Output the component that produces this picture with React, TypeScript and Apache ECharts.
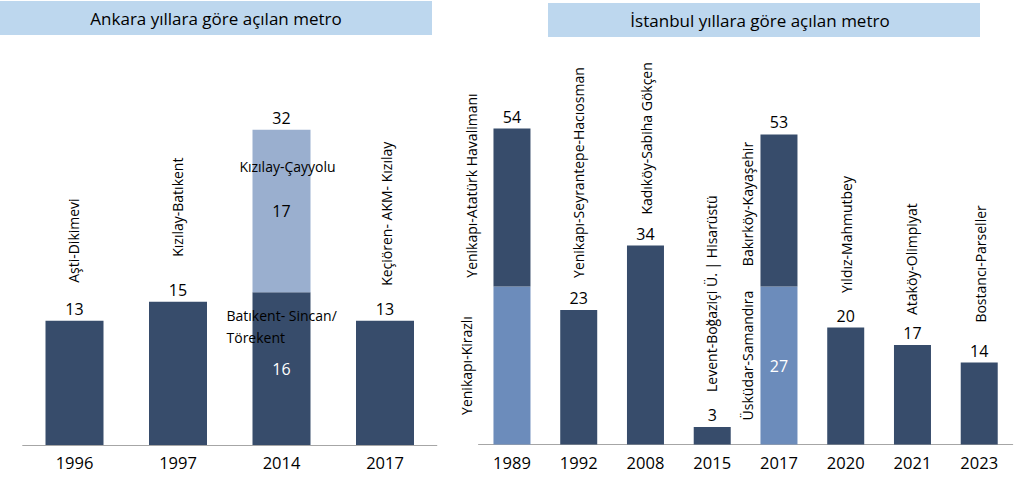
import React, { useEffect, useRef } from 'react';
import * as echarts from 'echarts';

// ---------- data ----------
const ankaraTitle = 'Ankara yıllara göre açılan metro';
const ankaraYears = ['1996', '1997', '2014', '2017'];
const ankaraFirst = [13, 15, 16, 13];
const ankaraSecond: (number | null)[] = [null, null, 17, null];
const ankaraTotals = [13, 15, 32, 13];
const ankaraLines = ['Aşti-Dikimevi', 'Kızılay-Batıkent', 'Kızılay-Çayyolu', 'Batıkent- Sincan/\nTörekent', 'Keçiören- AKM- Kızılay'];

const istanbulTitle = 'İstanbul yıllara göre açılan metro';
const istanbulYears = ['1989', '1992', '2008', '2015', '2017', '2020', '2021', '2023'];
const istanbulFirst = [27, 23, 34, 3, 27, 20, 17, 14];
const istanbulSecond: (number | null)[] = [27, null, null, null, 26, null, null, null];
const istanbulTotals = [54, 23, 34, 3, 53, 20, 17, 14];
const istanbulLines = [
  'Yenikapı-Kirazlı',
  'Yenikapı-Atatürk Havalimanı',
  'Yenikapı-Seyrantepe-Hacıosman',
  'Kadıköy-Sabiha Gökçen',
  'Levent-Boğaziçi Ü. | Hisarüstü',
  'Üsküdar-Samandıra',
  'Bakırköy-Kayaşehir',
  'Yıldız-Mahmutbey',
  'Ataköy-Olimpiyat',
  'Bostancı-Parseller',
];

// ---------- styles / layout ----------
const DARK = '#374c6b';
const ANK_LIGHT = '#9aafcf';
const IST_LIGHT = '#6c8cbb';
const TITLE_BG = '#bdd7ee';
const TEXT = '#000000';
const FONT = '"Open Sans", "Noto Sans", sans-serif';

type Anchor = 'total' | 'firstTop' | 'firstMid' | 'secondMid';
interface NameLayout { cat: number; anchor: Anchor; dx: number; dy: number; vertical: boolean; align: 'left' | 'center'; vAlign?: 'middle' | 'top' }

const ankaraLayout: NameLayout[] = [
  { cat: 0, anchor: 'total', dx: -1.5, dy: -38, vertical: true, align: 'left' },
  { cat: 1, anchor: 'total', dx: -1, dy: -45, vertical: true, align: 'left' },
  { cat: 2, anchor: 'total', dx: 6, dy: 37, vertical: false, align: 'center' },
  { cat: 2, anchor: 'firstTop', dx: -55, dy: 12, vertical: false, align: 'left', vAlign: 'top' },
  { cat: 3, anchor: 'total', dx: 1, dy: -35, vertical: true, align: 'left' },
];

const istanbulLayout: NameLayout[] = [
  { cat: 0, anchor: 'firstMid', dx: -45, dy: 0, vertical: true, align: 'center' },
  { cat: 0, anchor: 'secondMid', dx: -40, dy: -22, vertical: true, align: 'center' },
  { cat: 1, anchor: 'total', dx: 0, dy: -32, vertical: true, align: 'left' },
  { cat: 2, anchor: 'total', dx: 1, dy: -31, vertical: true, align: 'left' },
  { cat: 3, anchor: 'total', dx: -1, dy: -35, vertical: true, align: 'left' },
  { cat: 4, anchor: 'firstMid', dx: -31, dy: -10, vertical: true, align: 'center' },
  { cat: 4, anchor: 'secondMid', dx: -31, dy: -6.5, vertical: true, align: 'center' },
  { cat: 5, anchor: 'total', dx: 1, dy: -34.5, vertical: true, align: 'left' },
  { cat: 6, anchor: 'total', dx: -1, dy: -30, vertical: true, align: 'left' },
  { cat: 7, anchor: 'total', dx: 1, dy: -40, vertical: true, align: 'left' },
];

function anchorValue(a: Anchor, i: number, first: number[], second: (number | null)[]) {
  const s = second[i] || 0;
  if (a === 'total') return first[i] + s;
  if (a === 'firstTop') return first[i];
  if (a === 'firstMid') return first[i] / 2;
  return first[i] + s / 2;
}

function xAxis(gridIndex: number, data: string[]) {
  return {
    type: 'category',
    gridIndex,
    data,
    axisTick: { show: false },
    axisLine: { lineStyle: { color: '#a6a6a6', width: 1.2 } },
    axisLabel: { fontSize: 16.5, color: TEXT, margin: 9, fontFamily: FONT },
    splitLine: { show: false },
  };
}

function buildOption() {
  const ankaraFirstData = ankaraFirst.map((v, i) =>
    ankaraSecond[i] != null
      ? { value: v, label: { show: true, position: 'inside', color: '#ffffff', fontSize: 16, fontFamily: FONT } }
      : { value: v }
  );
  const ankaraSecondData = ankaraSecond.map((v) =>
    v == null ? null : { value: v, label: { show: true, position: 'inside', color: TEXT, fontSize: 16, fontFamily: FONT } }
  );
  const istanbulFirstData = istanbulFirst.map((v, i) => {
    if (i === 4) {
      return { value: v, itemStyle: { color: IST_LIGHT }, label: { show: true, position: 'inside', color: '#ffffff', fontSize: 16, fontFamily: FONT } };
    }
    if (i === 0) return { value: v, itemStyle: { color: IST_LIGHT } };
    return { value: v };
  });

  return {
    animation: false,
    backgroundColor: '#ffffff',
    textStyle: { fontFamily: FONT },
    grid: [
      { left: 22.75, width: 414, top: 63, bottom: 40 },
      { left: 478.6, width: 534, top: 93.5, bottom: 40.5 },
    ],
    xAxis: [xAxis(0, ankaraYears), xAxis(1, istanbulYears)],
    yAxis: [
      { type: 'value', gridIndex: 0, min: 0, max: 40, show: false, splitLine: { show: false } },
      { type: 'value', gridIndex: 1, min: 0, max: 60, show: false, splitLine: { show: false } },
    ],
    series: [
      { type: 'bar', xAxisIndex: 0, yAxisIndex: 0, stack: 'a', barWidth: 58, itemStyle: { color: DARK }, data: ankaraFirstData },
      { type: 'bar', xAxisIndex: 0, yAxisIndex: 0, stack: 'a', barWidth: 58, itemStyle: { color: ANK_LIGHT }, data: ankaraSecondData },
      { type: 'bar', xAxisIndex: 1, yAxisIndex: 1, stack: 'i', barWidth: 37, itemStyle: { color: DARK }, data: istanbulFirstData },
      { type: 'bar', xAxisIndex: 1, yAxisIndex: 1, stack: 'i', barWidth: 37, itemStyle: { color: DARK }, data: istanbulSecond },
    ],
  };
}

function totalGraphics(chart: any, gridIndex: number, first: number[], second: (number | null)[], labels: number[]) {
  return labels.map((t, i) => {
    const pt = chart.convertToPixel({ gridIndex }, [i, first[i] + (second[i] || 0)]) as number[];
    return {
      type: 'text',
      x: pt[0],
      y: pt[1] - 4,
      silent: true,
      z: 20,
      style: { text: String(t), fill: TEXT, fontSize: 16, fontFamily: FONT, align: 'center', verticalAlign: 'bottom' },
    };
  });
}

function nameGraphics(chart: any, gridIndex: number, names: string[], layout: NameLayout[], first: number[], second: (number | null)[]) {
  return names.map((name, k) => {
    const l = layout[k];
    const v = anchorValue(l.anchor, l.cat, first, second);
    const pt = chart.convertToPixel({ gridIndex }, [l.cat, v]) as number[];
    return {
      type: 'text',
      x: pt[0] + l.dx,
      y: pt[1] + l.dy,
      rotation: l.vertical ? Math.PI / 2 : 0,
      silent: true,
      z: 20,
      style: {
        text: name,
        fill: TEXT,
        fontSize: 14,
        fontFamily: FONT,
        lineHeight: 22,
        align: l.align,
        verticalAlign: l.vAlign || 'middle',
      },
    };
  });
}

export default function App() {
  const ref = useRef<HTMLDivElement>(null);
  useEffect(() => {
    if (!ref.current) return;
    const chart = echarts.init(ref.current, null, { renderer: 'svg' });
    chart.setOption(buildOption() as any);
    const titles = [
      { type: 'rect', shape: { x: 0, y: 1, width: 432, height: 34 }, style: { fill: TITLE_BG }, silent: true },
      { type: 'text', x: 216, y: 18.5, silent: true, style: { text: ankaraTitle, fill: TEXT, fontSize: 17, fontFamily: FONT, align: 'center', verticalAlign: 'middle' } },
      { type: 'rect', shape: { x: 548, y: 3, width: 432, height: 34 }, style: { fill: TITLE_BG }, silent: true },
      { type: 'text', x: 760, y: 20, silent: true, style: { text: istanbulTitle, fill: TEXT, fontSize: 17, fontFamily: FONT, align: 'center', verticalAlign: 'middle' } },
    ];
    const labels = [
      ...totalGraphics(chart, 0, ankaraFirst, ankaraSecond, ankaraTotals),
      ...totalGraphics(chart, 1, istanbulFirst, istanbulSecond, istanbulTotals),
      ...nameGraphics(chart, 0, ankaraLines, ankaraLayout, ankaraFirst, ankaraSecond),
      ...nameGraphics(chart, 1, istanbulLines, istanbulLayout, istanbulFirst, istanbulSecond),
    ];
    chart.setOption({ graphic: { elements: [...titles, ...labels] } } as any);
    return () => chart.dispose();
  }, []);
  return <div ref={ref} style={{ position: 'absolute', left: 0, top: 0, width: 1023, height: 485 }} />;
}
